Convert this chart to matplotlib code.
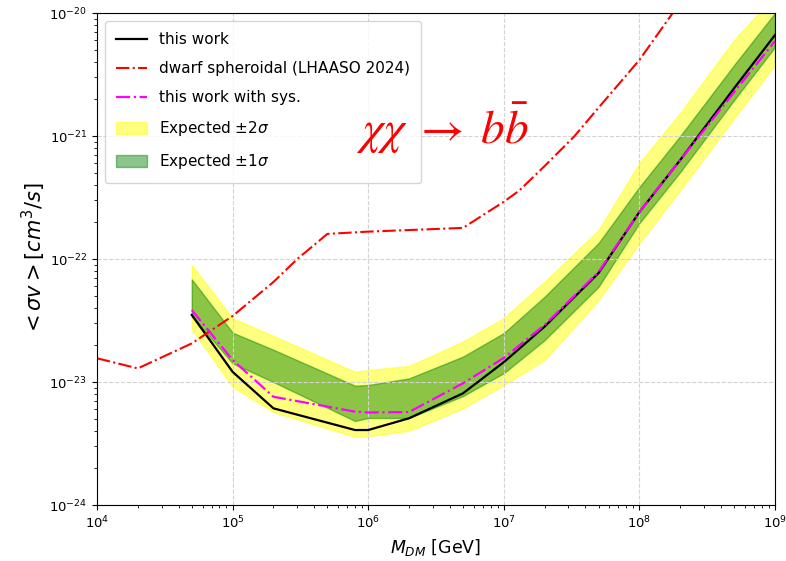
import matplotlib
matplotlib.use('Agg')
import matplotlib.pyplot as plt
from matplotlib.ticker import NullFormatter

# dark matter mass points [GeV]
mass = [5e4, 1e5, 2e5, 8e5, 1e6, 2e6, 5e6, 1e7, 2e7, 5e7, 1e8, 2e8, 5e8, 1e9]

# limits on <sigma v> [cm^3/s]
this_work = [3.51e-23, 1.21e-23, 6.11e-24, 4.07e-24, 4.07e-24, 5.07e-24, 8.09e-24,
             1.45e-23, 2.82e-23, 7.69e-23, 2.41e-22, 6.38e-22, 2.45e-21, 6.62e-21]
this_work_sys = [3.85e-23, 1.51e-23, 7.59e-24, 5.74e-24, 5.65e-24, 5.70e-24, 9.76e-24,
                 1.57e-23, 2.91e-23, 7.84e-23, 2.41e-22, 6.38e-22, 2.28e-21, 5.92e-21]

# expected bands
up_1sig = [6.84e-23, 2.52e-23, 1.83e-23, 9.33e-24, 9.46e-24, 1.07e-23, 1.61e-23,
           2.50e-23, 4.94e-23, 1.35e-22, 3.85e-22, 1.0e-21, 3.78e-21, 1.0e-20]
lo_1sig = [3.44e-23, 1.42e-23, 1.0e-23, 4.82e-24, 5.10e-24, 5.10e-24, 7.69e-24,
           1.18e-23, 2.19e-23, 5.95e-23, 1.96e-22, 5.09e-22, 1.96e-21, 5.29e-21]
up_2sig = [8.94e-23, 3.30e-23, 2.37e-23, 1.21e-23, 1.25e-23, 1.35e-23, 2.13e-23,
           3.31e-23, 6.54e-23, 1.72e-22, 6.03e-22, 1.54e-21, 6.03e-21, 1.40e-20]
lo_2sig = [2.68e-23, 9.16e-24, 5.70e-24, 3.59e-24, 3.64e-24, 4.02e-24, 6.11e-24,
           9.46e-24, 1.51e-23, 4.64e-23, 1.35e-22, 3.64e-22, 1.40e-21, 3.78e-21]

# dwarf spheroidal (LHAASO 2024)
dwarf_mass = [1e4, 2e4, 5e4, 1e5, 2e5, 3e5, 5e5, 1e6, 2e6, 5e6, 1e7, 1.3e7,
              2e7, 3.3e7, 5e7, 1e8, 2e8]
dwarf_sv = [1.56e-23, 1.29e-23, 2.06e-23, 3.44e-23, 6.5e-23, 1.0e-22, 1.6e-22,
            1.67e-22, 1.72e-22, 1.79e-22, 2.92e-22, 3.6e-22, 5.7e-22, 9.9e-22,
            1.7e-21, 4.15e-21, 1.22e-20]

fig = plt.figure(figsize=(7.86, 5.61), dpi=100)
ax = fig.add_axes([0.1234, 0.0998, 0.8626, 0.877])

ax.fill_between(mass, lo_2sig, up_2sig, color='yellow', alpha=0.5, label=r'Expected $\pm 2\sigma$')
ax.fill_between(mass, lo_1sig, up_1sig, color='green', alpha=0.45, label=r'Expected $\pm 1\sigma$')

ax.plot(mass, this_work, color='black', lw=1.6, label='this work')
ax.plot(dwarf_mass, dwarf_sv, color='red', ls='-.', lw=1.5, label='dwarf spheroidal (LHAASO 2024)')
ax.plot(mass, this_work_sys, color='magenta', ls='-.', lw=1.6, label='this work with sys.')

ax.set_xscale('log')
ax.set_yscale('log')
ax.set_xlim(1e4, 1e9)
ax.set_ylim(1e-24, 1e-20)
ax.xaxis.set_minor_formatter(NullFormatter())
ax.yaxis.set_minor_formatter(NullFormatter())
ax.grid(True, which='major', ls='--', color='lightgray', lw=0.8)
ax.tick_params(labelsize=9.5)

ax.set_xlabel(r'$M_{DM}$ [GeV]', fontsize=12.5)
ax.set_ylabel(r'$<\sigma v> [cm^3/s]$', fontsize=15, labelpad=1)

# legend order as in the picture
h, l = ax.get_legend_handles_labels()
order = [2, 3, 4, 0, 1]
ax.legend([h[i] for i in order], [l[i] for i in order], loc='upper left',
          fontsize=11.0, labelspacing=0.92, borderpad=0.75, handleheight=0.8)

ax.text(0.509, 0.766, r'$\chi\chi\;\rightarrow\;b\bar{b}$', transform=ax.transAxes,
        color='red', fontsize=34, ha='center', va='center', math_fontfamily='stix',
        zorder=10)

fig.savefig('out.png', dpi=100)
